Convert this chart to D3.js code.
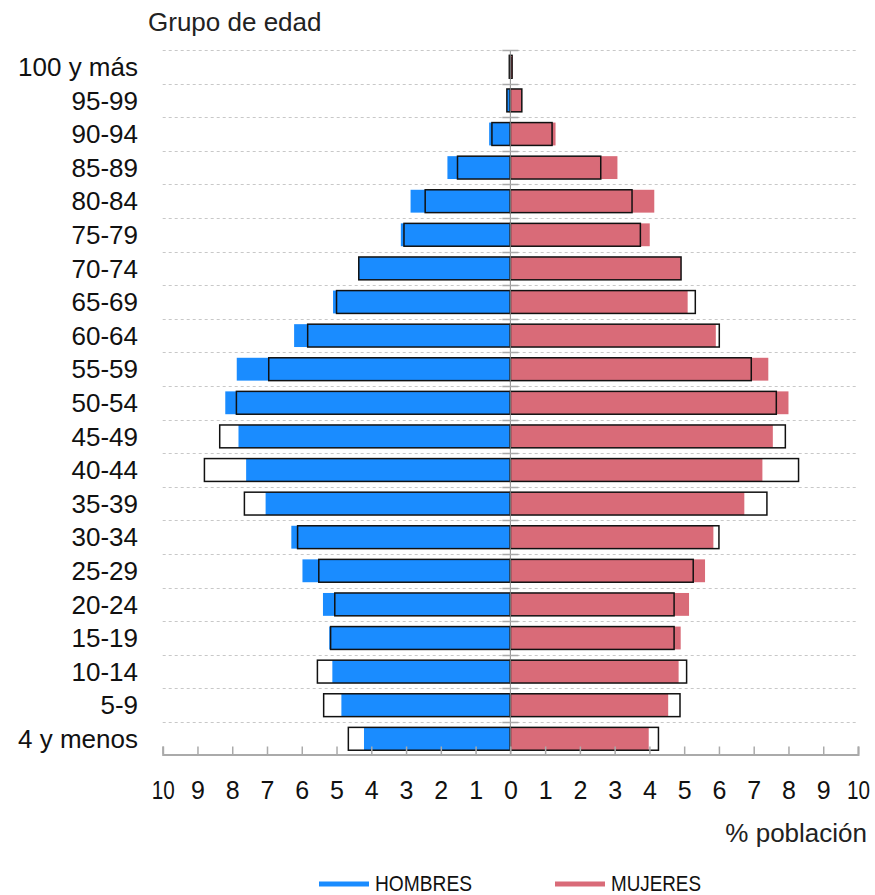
<!DOCTYPE html>
<html>
<head>
<meta charset="utf-8">
<script src="https://cdn.jsdelivr.net/npm/d3@7"></script>
<style>
  html, body { margin: 0; padding: 0; background: #fff; }
  svg { display: block; font-family: "Liberation Sans", Arial, sans-serif; }
</style>
</head>
<body>
<svg id="chart" width="875" height="895"></svg>
<script>
// Age groups, top to bottom
const ageGroups = ["100 y más","95-99","90-94","85-89","80-84","75-79","70-74","65-69","60-64","55-59","50-54","45-49","40-44","35-39","30-34","25-29","20-24","15-19","10-14","5-9","4 y menos"];
// Filled bars (% población)
const hombres = [0.03,0.10,0.61,1.81,2.87,3.15,4.37,5.10,6.22,7.87,8.20,7.82,7.60,7.04,6.30,5.98,5.39,5.21,5.12,4.86,4.21];
const mujeres = [0.06,0.33,1.30,3.08,4.14,4.01,4.91,5.10,5.91,7.42,8.00,7.55,7.25,6.73,5.84,5.60,5.14,4.90,4.84,4.54,3.98];
// Outlined bars (comparison)
const hombresRef = [0.03,0.10,0.53,1.52,2.45,3.06,4.36,5.00,5.83,6.95,7.88,8.36,8.80,7.65,6.12,5.51,5.05,5.17,5.55,5.37,4.66];
const mujeresRef = [0.05,0.33,1.20,2.60,3.50,3.74,4.91,5.32,6.01,6.93,7.65,7.91,8.29,7.38,6.00,5.26,4.71,4.71,5.07,4.88,4.26];
const tickValues = [-10,-9,-8,-7,-6,-5,-4,-3,-2,-1,0,1,2,3,4,5,6,7,8,9,10];
const seriesNames = ["HOMBRES","MUJERES"];
const colors = ["#1a8cff","#d96b78"];

const svg = d3.select("#chart");
const x = d3.scaleLinear().domain([-10, 10]).range([162.7, 858]);
const y = d3.scaleBand().domain(ageGroups).range([50, 755.6]).paddingInner(0.32).paddingOuter(0.16);
const step = y.step();
const boundary = d => y(d) - y.paddingInner() * step / 2;

// dashed gridlines at band boundaries
svg.append("g").selectAll("line").data(ageGroups).join("line")
  .attr("x1", x(-10)).attr("x2", x(10))
  .attr("y1", d => Math.round(boundary(d)) + 0.5).attr("y2", d => Math.round(boundary(d)) + 0.5)
  .attr("stroke", "#c8c8c8").attr("stroke-width", 1).attr("stroke-dasharray", "3,3");

// filled bars
const gBars = svg.append("g");
gBars.selectAll("rect.h").data(ageGroups).join("rect")
  .attr("x", (d, i) => x(-hombres[i])).attr("width", (d, i) => x(0) - x(-hombres[i]))
  .attr("y", d => y(d)).attr("height", y.bandwidth()).attr("fill", colors[0]);
gBars.selectAll("rect.m").data(ageGroups).join("rect")
  .attr("x", x(0)).attr("width", (d, i) => x(mujeres[i]) - x(0))
  .attr("y", d => y(d)).attr("height", y.bandwidth()).attr("fill", colors[1]);

// outline bars
const gOut = svg.append("g").attr("fill", "none").attr("stroke", "#111").attr("stroke-width", 1.5);
gOut.selectAll("rect.hr").data(ageGroups).join("rect")
  .attr("x", (d, i) => x(-hombresRef[i])).attr("width", (d, i) => x(0) - x(-hombresRef[i]))
  .attr("y", d => y(d)).attr("height", y.bandwidth());
gOut.selectAll("rect.mr").data(ageGroups).join("rect")
  .attr("x", x(0)).attr("width", (d, i) => x(mujeresRef[i]) - x(0))
  .attr("y", d => y(d)).attr("height", y.bandwidth());

// center line with small ticks
svg.append("line").attr("x1", x(0)).attr("x2", x(0)).attr("y1", boundary(ageGroups[0])).attr("y2", 754)
  .attr("stroke", "#888").attr("stroke-width", 1);
svg.append("g").selectAll("line").data(ageGroups.slice(0)).join("line")
  .attr("x1", x(0) - 8).attr("x2", x(0) + 8)
  .attr("y1", d => Math.round(boundary(d)) + 0.5).attr("y2", d => Math.round(boundary(d)) + 0.5)
  .attr("stroke", "#aaa").attr("stroke-width", 1.5);

// bottom axis
const axis = d3.axisBottom(x).tickValues(tickValues).tickFormat(d => Math.abs(d))
  .tickSizeInner(-8).tickSizeOuter(-8).tickPadding(34);
const gAx = svg.append("g").attr("transform", "translate(0,754.5)").call(axis);
gAx.select(".domain").attr("stroke", "#aaa").attr("stroke-width", 2);
gAx.selectAll(".tick line").attr("stroke", "#aaa").attr("stroke-width", 1.5);
gAx.selectAll(".tick text").attr("font-size", 25).attr("fill", "#111")
  .attr("font-family", "Liberation Sans, Arial, sans-serif").attr("dy", "0").attr("y", 44)
  .attr("textLength", d => Math.abs(d) === 10 ? 23 : null).attr("lengthAdjust", "spacingAndGlyphs");

// y labels
svg.append("g").selectAll("text").data(ageGroups).join("text")
  .attr("x", 138).attr("y", d => y(d) + y.bandwidth() / 2)
  .attr("dy", "0.35em").attr("text-anchor", "end")
  .attr("font-size", 26).attr("fill", "#111").text(d => d);

// titles
svg.append("text").attr("x", 148).attr("y", 31).attr("font-size", 26).attr("fill", "#222").text("Grupo de edad");
svg.append("text").attr("x", 867).attr("y", 842).attr("text-anchor", "end").attr("font-size", 26).attr("fill", "#222").text("% población");

// legend
const legend = svg.append("g");
const legendX = [319, 555];
seriesNames.forEach((name, i) => {
  legend.append("line").attr("x1", legendX[i]).attr("x2", legendX[i] + 50)
    .attr("y1", 884).attr("y2", 884).attr("stroke", colors[i]).attr("stroke-width", 5);
  legend.append("text").attr("x", legendX[i] + 56).attr("y", 891)
    .attr("font-size", 22).attr("fill", "#111")
    .attr("textLength", i === 0 ? 97 : 90).attr("lengthAdjust", "spacingAndGlyphs")
    .text(name);
});
</script>
</body>
</html>
